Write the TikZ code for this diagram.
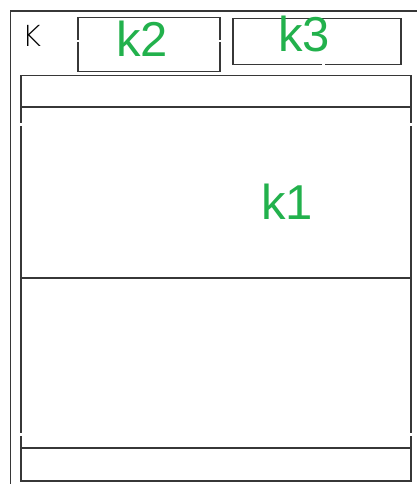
\documentclass[tikz,border=0pt]{standalone}
\usepackage{fontspec}
\setmainfont{Liberation Sans}
\newfontfamily\thinfont{DejaVu Sans ExtraLight}
\definecolor{lbl}{RGB}{34,177,76}
\definecolor{ln}{RGB}{55,55,55}
\begin{document}
\begin{tikzpicture}[x=1pt,y=-1pt,
  frame/.style={draw=ln,line width=1.5pt},
  boxnode/.style={frame,rectangle,inner sep=0pt,anchor=north west},
  big/.style={text=lbl,font=\fontsize{49}{49}\selectfont,anchor=base,inner sep=0pt},
  gap/.style={fill=white,draw=none}]
\useasboundingbox (0,0) rectangle (416,484);
\fill[white] (0,0) rectangle (416,484);
% outer frame
\coordinate (ob) at (10.5,486);
\coordinate (otl) at (10.5,11);
\coordinate (otr) at (418,11);
\draw[frame,line width=1.3pt] (ob) -- (otl) -- (otr);
% small label
\node[anchor=base west,inner sep=0pt,text=black,font=\thinfont\fontsize{29}{29}\selectfont] (K) at (22,47) {K};
% k2 and k3 boxes
\node[boxnode,minimum width=142pt,minimum height=54pt] (b2) at (77,17) {};
\node[boxnode,minimum width=168pt,minimum height=46pt] (b3) at (232,18) {};
% big box
\node[boxnode,minimum width=390pt,minimum height=405pt] (b1) at (20,75) {};
\coordinate (l1a) at (20,107);  \coordinate (l1b) at (410,107);
\coordinate (l2a) at (20,278);  \coordinate (l2b) at (410,278);
\coordinate (l3a) at (20,448);  \coordinate (l3b) at (410,448);
\draw[frame] (l1a) -- (l1b);
\draw[frame] (l2a) -- (l2b);
\draw[frame] (l3a) -- (l3b);
% small gaps
\path[gap] (18,123) rectangle (22,125.5);
\path[gap] (408,123) rectangle (412,125.5);
\path[gap] (18,433) rectangle (22,435.5);
\path[gap] (408,433) rectangle (412,435.5);
\path[gap] (75,40) rectangle (79,42.5);
\path[gap] (217,40) rectangle (221,42.5);
\path[gap] (322,62) rectangle (324.5,66);
% labels
\node[big] (t2) at (142,57) {k2};
\node[big] (t3) at (304,52) {k3};
\node[big] (t1) at (287,219) {k1};
\end{tikzpicture}
\end{document}
